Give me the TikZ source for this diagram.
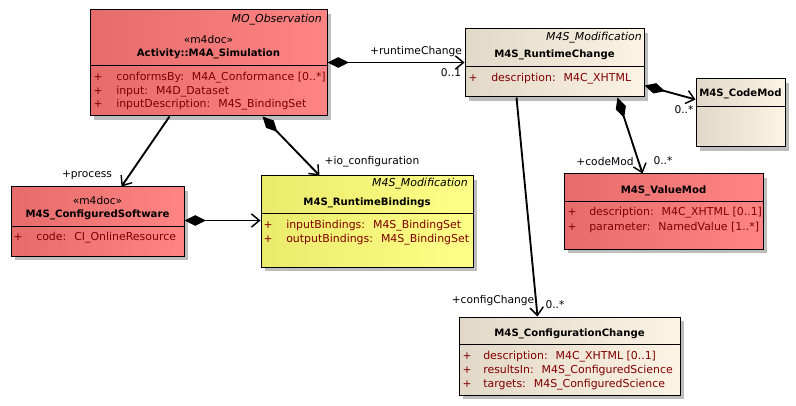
\documentclass[tikz,border=0pt]{standalone}
\usepackage{fontspec}
\setmainfont{DejaVu Sans}
\usetikzlibrary{arrows.meta,calc,fit,shadows}
\definecolor{redL}{RGB}{230,108,108}
\definecolor{redR}{RGB}{255,132,132}
\definecolor{yelL}{RGB}{234,234,108}
\definecolor{yelR}{RGB}{255,255,136}
\definecolor{begL}{RGB}{226,216,200}
\definecolor{begR}{RGB}{252,243,228}
\definecolor{attrc}{RGB}{128,0,0}
\tikzset{
  x=0.75pt, y=-0.75pt,
  cls/.style={draw=black, line width=0.75pt, inner sep=0pt,
    drop shadow={shadow xshift=3pt, shadow yshift=-3pt, opacity=1, fill=black!26}},
  redcls/.style={cls, left color=redL, right color=redR},
  yelcls/.style={cls, left color=yelL, right color=yelR},
  begcls/.style={cls, left color=begL, right color=begR},
  txt/.style={inner sep=0pt, font=\fontsize{8}{9.6}\selectfont},
  pkg/.style={txt, anchor=mid east, font=\fontsize{8.2}{9.6}\selectfont\itshape},
  cname/.style={txt, anchor=mid, font=\fontsize{7.6}{9.6}\selectfont\bfseries},
  stereo/.style={txt, anchor=mid},
  plus/.style={txt, anchor=mid, text=attrc},
  attr/.style={txt, anchor=mid west, text=attrc, font=\fontsize{8.2}{9.6}\selectfont},
  lbl/.style={txt, anchor=mid},
  divl/.style={draw=black, line width=0.75pt},
  conn/.style={draw=black, line width=1.4pt},
  comp/.style={conn, {Diamond[length=16pt,width=8pt]}-{Straight Barb[length=6pt,width=10pt,line width=1.1pt]}},
  nav/.style={conn, -{Straight Barb[length=6pt,width=10pt,line width=1.1pt]}}
}
\begin{document}
\begin{tikzpicture}
\useasboundingbox (0,0) rectangle (796,406);
\fill[white] (0,0) rectangle (796,406);

% boxes
\node[redcls, fit={(90,10)(327,116)}] (sim) {};
\node[begcls, fit={(465,29)(644,97)}] (rc) {};
\node[begcls, fit={(696,79)(785,147)}] (cm) {};
\node[redcls, fit={(11,187)(184,256)}] (cs) {};
\node[yelcls, fit={(261,176)(473,267)}] (rb) {};
\node[redcls, fit={(564,174)(763,249)}] (vm) {};
\node[begcls, fit={(459,317)(680,395)}] (cc) {};

% dividers
\draw[divl] ($(sim.north west)+(0,56)$) -- ($(sim.north east)+(0,56)$);
\draw[divl] ($(rc.north west)+(0,38)$) -- ($(rc.north east)+(0,38)$);
\draw[divl] ($(cm.north west)+(0,28)$) -- ($(cm.north east)+(0,28)$);
\draw[divl] ($(cs.north west)+(0,40)$) -- ($(cs.north east)+(0,40)$);
\draw[divl] ($(rb.north west)+(0,38)$) -- ($(rb.north east)+(0,38)$);
\draw[divl] ($(vm.north west)+(0,28)$) -- ($(vm.north east)+(0,28)$);
\draw[divl] ($(cc.north west)+(0,28)$) -- ($(cc.north east)+(0,28)$);

% Simulation
\node[pkg] (simpkg) at (322,19) {MO\_Observation};
\node[stereo] (simst) at (208.5,40) {«m4doc»};
\node[cname] (simname) at (208.5,53) {Activity::M4A\_Simulation};
\node[plus] (simp1) at (98,77) {+};
\node[plus] (simp2) at (98,91) {+};
\node[plus] (simp3) at (98,104) {+};
\node[attr] (sima1) at (116,77) {conformsBy:\hspace{2.5pt} M4A\_Conformance [0..*]};
\node[attr] (sima2) at (116,91) {input:\hspace{2.5pt} M4D\_Dataset};
\node[attr] (sima3) at (116,104) {inputDescription:\hspace{2.5pt} M4S\_BindingSet};

% RuntimeChange
\node[pkg] (rcpkg) at (642,37) {M4S\_Modification};
\node[cname] (rcname) at (554.5,54) {M4S\_RuntimeChange};
\node[plus] (rcp1) at (473,78) {+};
\node[attr] (rca1) at (491,78) {description:\hspace{2.5pt} M4C\_XHTML};

% CodeMod
\node[cname] (cmname) at (740.5,93) {M4S\_CodeMod};

% ConfiguredSoftware
\node[stereo] (csst) at (97.5,201) {«m4doc»};
\node[cname] (csname) at (97.5,214) {M4S\_ConfiguredSoftware};
\node[plus] (csp1) at (18,237) {+};
\node[attr] (csa1) at (36,237) {code:\hspace{2.5pt} CI\_OnlineResource};

% RuntimeBindings
\node[pkg] (rbpkg) at (468,183) {M4S\_Modification};
\node[cname] (rbname) at (367,202) {M4S\_RuntimeBindings};
\node[plus] (rbp1) at (268,225) {+};
\node[plus] (rbp2) at (268,239) {+};
\node[attr] (rba1) at (286,225) {inputBindings:\hspace{2.5pt} M4S\_BindingSet};
\node[attr] (rba2) at (286,239) {outputBindings:\hspace{2.5pt} M4S\_BindingSet};

% ValueMod
\node[cname] (vmname) at (663.5,190) {M4S\_ValueMod};
\node[plus] (vmp1) at (572,212) {+};
\node[plus] (vmp2) at (572,227) {+};
\node[attr] (vma1) at (589,212) {description:\hspace{2.5pt} M4C\_XHTML [0..1]};
\node[attr] (vma2) at (589,227) {parameter:\hspace{2.5pt} NamedValue [1..*]};

% ConfigurationChange
\node[cname] (ccname) at (569.5,333) {M4S\_ConfigurationChange};
\node[plus] (ccp1) at (467,356) {+};
\node[plus] (ccp2) at (467,370) {+};
\node[plus] (ccp3) at (467,384) {+};
\node[attr] (cca1) at (483,356) {description:\hspace{2.5pt} M4C\_XHTML [0..1]};
\node[attr] (cca2) at (483,370) {resultsIn:\hspace{2.5pt} M4S\_ConfiguredScience};
\node[attr] (cca3) at (483,384) {targets:\hspace{2.5pt} M4S\_ConfiguredScience};

% connectors
\draw[comp] ($(sim.north east)+(0,53)$) -- ($(rc.north west)+(0,34)$);
\draw[nav] ($(sim.south west)+(80,0)$) -- ($(cs.north west)+(111,0)$);
\draw[comp] ($(sim.south west)+(173,0)$) -- ($(rb.north west)+(59,0)$);
\draw[comp] ($(cs.north east)+(0,34)$) -- ($(rb.north west)+(0,45)$);
\draw[comp] ($(rc.north east)+(0,57)$) -- ($(cm.north west)+(0,21)$);
\draw[comp] ($(rc.south west)+(153,0)$) -- ($(vm.north west)+(79,0)$);
\draw[nav] ($(rc.south west)+(52,0)$) -- ($(cc.north west)+(79,0)$);

% connector labels
\node[lbl] (l1) at (416,51) {+runtimeChange};
\node[lbl] (l2) at (451,73) {0..1};
\node[lbl] (l3) at (87,174) {+process};
\node[lbl] (l4) at (372,161) {+io\_configuration};
\node[lbl] (l5) at (684,110) {0..*};
\node[lbl] (l6) at (605,162) {+codeMod};
\node[lbl] (l7) at (663,161) {0..*};
\node[lbl] (l8) at (493,300) {+configChange};
\node[lbl] (l9) at (555,305) {0..*};
\end{tikzpicture}
\end{document}
